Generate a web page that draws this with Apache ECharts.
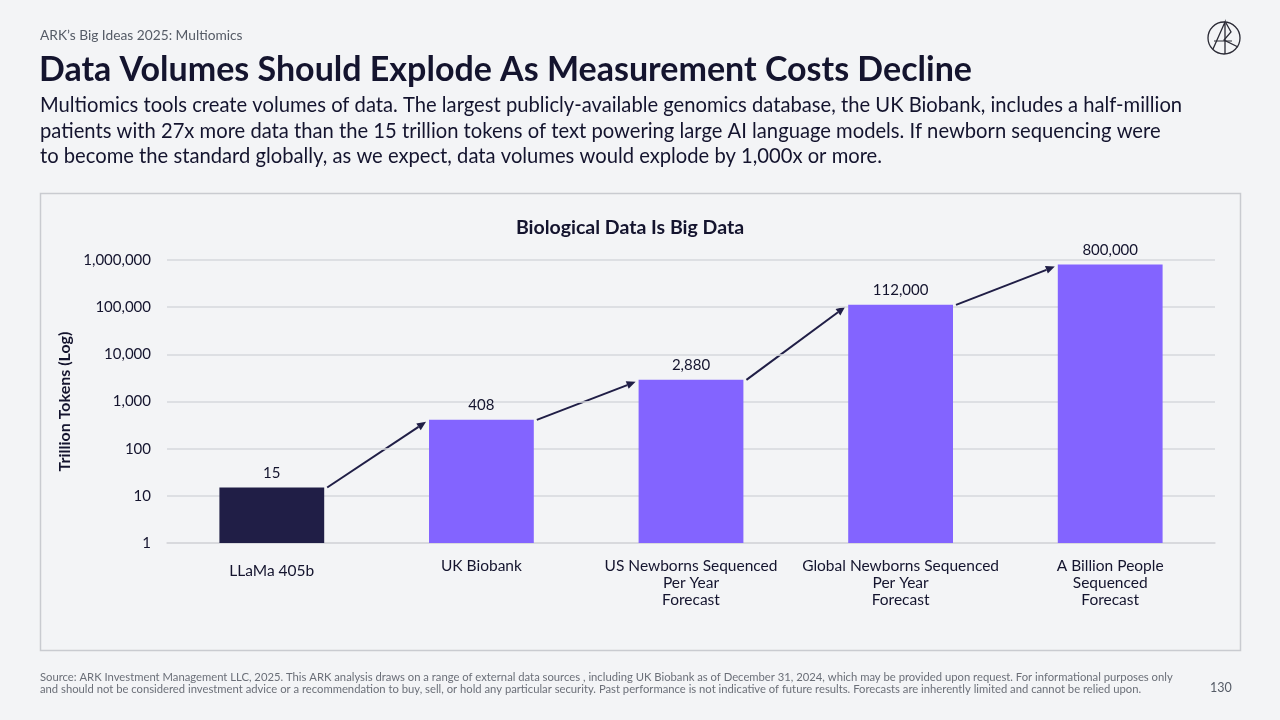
<!DOCTYPE html>
<html><head><meta charset="utf-8">
<script src="https://cdn.jsdelivr.net/npm/echarts@6/dist/echarts.min.js"></script>
<style>html,body{margin:0;padding:0;background:#f3f4f6;}#c{width:1280px;height:720px;}</style>
</head><body><div id="c"></div>
<script>
const categories = ['LLaMa 405b', 'UK Biobank', 'US Newborns Sequenced\nPer Year\nForecast', 'Global Newborns Sequenced\nPer Year\nForecast', 'A Billion People\nSequenced\nForecast'];
const values = [15, 408, 2880, 112000, 800000];
const barColors = ['#201e46', '#8364ff', '#8364ff', '#8364ff', '#8364ff'];
const yTicks = [1, 10, 100, 1000, 10000, 100000, 1000000];

const FONT = 'Lato';
const DARK = '#14142e';
const chart = echarts.init(document.getElementById('c'), null, {renderer: 'canvas'});

const paragraph = 'Multiomics tools create volumes of data. The largest publicly-available genomics database, the UK Biobank, includes a half-million\npatients with 27x more data than the 15 trillion tokens of text powering large AI language models. If newborn sequencing were\nto become the standard globally, as we expect, data volumes would explode by 1,000x or more.';
const footer = 'Source: ARK Investment Management LLC, 2025. This ARK analysis draws on a range of external data sources , including UK Biobank as of December 31, 2024, which may be provided upon request. For informational purposes only\nand should not be considered investment advice or a recommendation to buy, sell, or hold any particular security. Past performance is not indicative of future results. Forecasts are inherently limited and cannot be relied upon.';

const option = {
  backgroundColor: '#f3f4f6',
  animation: false,
  textStyle: {fontFamily: FONT},
  title: [
    {text: 'ARK\u2019s Big Ideas 2025: Multiomics', left: 40, top: 29, padding: 0, textStyle: {fontFamily: FONT, fontSize: 13.75, fontWeight: 'normal', color: '#555b66'}},
    {text: 'Data Volumes Should Explode As Measurement Costs Decline', left: 39, top: 53, padding: 0, textStyle: {fontFamily: FONT, fontSize: 34, fontWeight: 'bold', color: DARK}},
    {text: paragraph, left: 40, top: 93, padding: 0, textStyle: {fontFamily: FONT, fontSize: 20.2, fontWeight: 'normal', color: DARK, lineHeight: 25.5}},
    {text: 'Biological Data Is Big Data', left: 630, textAlign: 'center', top: 218, padding: 0, textStyle: {fontFamily: FONT, fontSize: 19.5, fontWeight: 'bold', color: DARK}},
    {text: footer, left: 40, top: 671, padding: 0, textStyle: {fontFamily: FONT, fontSize: 11.25, fontWeight: 'normal', color: '#6b6f78', lineHeight: 12}},
    {text: '130', left: 1210, top: 681, padding: 0, textStyle: {fontFamily: FONT, fontSize: 12.5, fontWeight: 'normal', color: '#555b66'}}
  ],
  grid: {left: 167, right: 65, top: 260, bottom: 177},
  xAxis: {
    type: 'category',
    data: categories.map((c, i) => i === 0 ? {value: c, textStyle: {padding: [5, 0, 0, 0]}} : c),
    axisLine: {show: true, lineStyle: {color: '#d6d8dc', width: 1.5}},
    axisTick: {show: false},
    axisLabel: {margin: 14, fontFamily: FONT, fontSize: 15.5, color: DARK, lineHeight: 17, interval: 0}
  },
  yAxis: {
    type: 'log',
    logBase: 10,
    min: yTicks[0],
    max: yTicks[yTicks.length - 1],
    name: 'Trillion Tokens (Log)',
    nameLocation: 'middle',
    nameRotate: 90,
    nameGap: 78,
    nameTextStyle: {fontFamily: FONT, fontSize: 16, fontWeight: 'bold', color: DARK},
    axisLine: {show: false},
    axisTick: {show: false},
    splitLine: {show: true, lineStyle: {color: '#d6d8dc', width: 1.5}},
    axisLabel: {margin: 16, fontFamily: FONT, fontSize: 15, color: DARK,
      formatter: v => Number(v).toLocaleString('en-US')}
  },
  series: [{
    type: 'bar',
    barWidth: '50%',
    data: values.map((v, i) => ({value: v, itemStyle: {color: barColors[i]}})),
    label: {show: true, position: 'top', distance: 7, fontFamily: FONT, fontSize: 15, color: DARK,
      formatter: p => Number(p.value).toLocaleString('en-US')}
  }],
  graphic: []
};
chart.setOption(option);

// arrows between bars, positioned through the chart's own scales
const g = [];
g.push({type: 'rect', shape: {x: 40.5, y: 193.5, width: 1200, height: 457}, style: {fill: 'none', stroke: '#c9cbd0', lineWidth: 1.5}, z: -1});
// logo
const lx = 1224, ly = 38, lr = 16;
g.push({type: 'circle', shape: {cx: lx, cy: ly, r: lr}, style: {fill: 'none', stroke: '#2a2a35', lineWidth: 1.3}});
g.push({type: 'polyline', shape: {points: [[lx - 11, ly + 11], [lx + 1, ly - 16], [lx + 1, ly + 16]]}, style: {fill: 'none', stroke: '#2a2a35', lineWidth: 1.3}});
g.push({type: 'polyline', shape: {points: [[lx + 2, ly - 15], [lx + 7, ly - 6], [lx + 0, ly + 2], [lx + 14, ly + 9]]}, style: {fill: 'none', stroke: '#2a2a35', lineWidth: 1.3}});
g.push({type: 'line', shape: {x1: lx - 10, y1: ly + 3, x2: lx + 8, y2: ly + 3}, style: {stroke: '#2a2a35', lineWidth: 1.0}});

const band = chart.convertToPixel({gridIndex: 0}, [1, 1])[0] - chart.convertToPixel({gridIndex: 0}, [0, 1])[0];
const half = band * 0.25;
for (let i = 0; i < values.length - 1; i++) {
  const p0 = chart.convertToPixel({gridIndex: 0}, [i, values[i]]);
  const p1 = chart.convertToPixel({gridIndex: 0}, [i + 1, values[i + 1]]);
  const x1 = p0[0] + half + 3, y1 = p0[1];
  const x2 = p1[0] - half - 3, y2 = p1[1] + 2;
  const ang = Math.atan2(y2 - y1, x2 - x1);
  const L = 9, W = 4;
  const bx = x2 - L * Math.cos(ang), by = y2 - L * Math.sin(ang);
  g.push({type: 'line', shape: {x1: x1, y1: y1, x2: bx, y2: by}, style: {stroke: '#201e46', lineWidth: 2}});
  g.push({type: 'polygon', shape: {points: [[x2, y2], [bx - W * Math.sin(ang), by + W * Math.cos(ang)], [bx + W * Math.sin(ang), by - W * Math.cos(ang)]]}, style: {fill: '#201e46'}});
}
chart.setOption({graphic: g});
</script>
</body></html>
